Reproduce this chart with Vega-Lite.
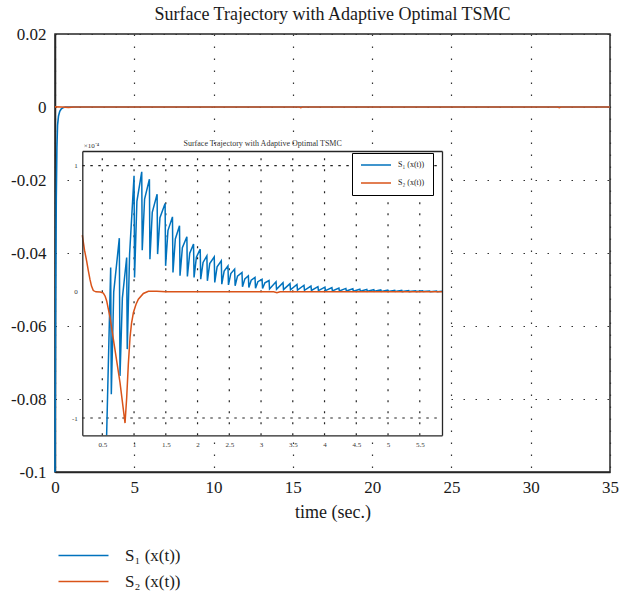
{
  "$schema": "https://vega.github.io/schema/vega-lite/v6.json",
  "width": 555,
  "height": 438,
  "padding": {"left": 5, "top": 6, "right": 5, "bottom": 5},
  "background": "white",
  "title": {"text": "Surface Trajectory with Adaptive Optimal TSMC", "font": "Liberation Serif", "fontSize": 18, "fontWeight": "normal", "color": "#1a1a1a", "anchor": "middle", "frame": "group", "offset": 1},
  "config": {"view": {"stroke": "#262626", "strokeWidth": 1.5}, "font": "Liberation Serif"},
  "datasets": {
    "main": [
      {"t": 0, "s": -0.1, "series": "S₁ (x(t))"},
      {"t": 0.04, "s": -0.055, "series": "S₁ (x(t))"},
      {"t": 0.08, "s": -0.025, "series": "S₁ (x(t))"},
      {"t": 0.12, "s": -0.011, "series": "S₁ (x(t))"},
      {"t": 0.16, "s": -0.005, "series": "S₁ (x(t))"},
      {"t": 0.22, "s": -0.0025, "series": "S₁ (x(t))"},
      {"t": 0.3, "s": -0.0012, "series": "S₁ (x(t))"},
      {"t": 0.4, "s": -0.0005, "series": "S₁ (x(t))"},
      {"t": 0.5, "s": -0.0002, "series": "S₁ (x(t))"},
      {"t": 0.65, "s": 0, "series": "S₁ (x(t))"},
      {"t": 35, "s": 0, "series": "S₁ (x(t))"},
      {"t": 0, "s": 0.000045, "series": "S₂ (x(t))"},
      {"t": 0.4, "s": 0, "series": "S₂ (x(t))"},
      {"t": 0.86, "s": -0.0001, "series": "S₂ (x(t))"},
      {"t": 1.2, "s": 0, "series": "S₂ (x(t))"},
      {"t": 15.4, "s": 0, "series": "S₂ (x(t))"},
      {"t": 15.5, "s": -0.00015, "series": "S₂ (x(t))"},
      {"t": 15.6, "s": 0, "series": "S₂ (x(t))"},
      {"t": 31.7, "s": 0, "series": "S₂ (x(t))"},
      {"t": 31.8, "s": -0.00015, "series": "S₂ (x(t))"},
      {"t": 31.9, "s": 0, "series": "S₂ (x(t))"},
      {"t": 35, "s": 0, "series": "S₂ (x(t))"}
    ],
    "inset": [
      {"t": 0.568, "v": -1.137, "series": "S₁ (x(t))"},
      {"t": 0.632, "v": 0.193, "series": "S₁ (x(t))"},
      {"t": 0.642, "v": -0.811, "series": "S₁ (x(t))"},
      {"t": 0.68, "v": 0.0, "series": "S₁ (x(t))"},
      {"t": 0.768, "v": 0.425, "series": "S₁ (x(t))"},
      {"t": 0.779, "v": -0.666, "series": "S₁ (x(t))"},
      {"t": 0.816, "v": -0.05, "series": "S₁ (x(t))"},
      {"t": 0.884, "v": 0.272, "series": "S₁ (x(t))"},
      {"t": 0.893, "v": -0.454, "series": "S₁ (x(t))"},
      {"t": 0.93, "v": 0.3, "series": "S₁ (x(t))"},
      {"t": 1.0, "v": 0.919, "series": "S₁ (x(t))"},
      {"t": 1.008, "v": 0.114, "series": "S₁ (x(t))"},
      {"t": 1.045, "v": 0.717, "series": "S₁ (x(t))"},
      {"t": 1.121, "v": 0.951, "series": "S₁ (x(t))"},
      {"t": 1.129, "v": 0.33, "series": "S₁ (x(t))"},
      {"t": 1.166, "v": 0.735, "series": "S₁ (x(t))"},
      {"t": 1.242, "v": 0.893, "series": "S₁ (x(t))"},
      {"t": 1.25, "v": 0.259, "series": "S₁ (x(t))"},
      {"t": 1.287, "v": 0.63, "series": "S₁ (x(t))"},
      {"t": 1.363, "v": 0.774, "series": "S₁ (x(t))"},
      {"t": 1.371, "v": 0.299, "series": "S₁ (x(t))"},
      {"t": 1.408, "v": 0.588, "series": "S₁ (x(t))"},
      {"t": 1.489, "v": 0.7, "series": "S₁ (x(t))"},
      {"t": 1.497, "v": 0.206, "series": "S₁ (x(t))"},
      {"t": 1.534, "v": 0.485, "series": "S₁ (x(t))"},
      {"t": 1.605, "v": 0.594, "series": "S₁ (x(t))"},
      {"t": 1.613, "v": 0.153, "series": "S₁ (x(t))"},
      {"t": 1.65, "v": 0.419, "series": "S₁ (x(t))"},
      {"t": 1.716, "v": 0.523, "series": "S₁ (x(t))"},
      {"t": 1.724, "v": 0.127, "series": "S₁ (x(t))"},
      {"t": 1.761, "v": 0.349, "series": "S₁ (x(t))"},
      {"t": 1.832, "v": 0.436, "series": "S₁ (x(t))"},
      {"t": 1.84, "v": 0.122, "series": "S₁ (x(t))"},
      {"t": 1.877, "v": 0.306, "series": "S₁ (x(t))"},
      {"t": 1.937, "v": 0.378, "series": "S₁ (x(t))"},
      {"t": 1.945, "v": 0.114, "series": "S₁ (x(t))"},
      {"t": 1.982, "v": 0.275, "series": "S₁ (x(t))"},
      {"t": 2.042, "v": 0.338, "series": "S₁ (x(t))"},
      {"t": 2.05, "v": 0.1, "series": "S₁ (x(t))"},
      {"t": 2.087, "v": 0.233, "series": "S₁ (x(t))"},
      {"t": 2.147, "v": 0.285, "series": "S₁ (x(t))"},
      {"t": 2.155, "v": 0.087, "series": "S₁ (x(t))"},
      {"t": 2.192, "v": 0.224, "series": "S₁ (x(t))"},
      {"t": 2.263, "v": 0.277, "series": "S₁ (x(t))"},
      {"t": 2.271, "v": 0.074, "series": "S₁ (x(t))"},
      {"t": 2.308, "v": 0.198, "series": "S₁ (x(t))"},
      {"t": 2.374, "v": 0.246, "series": "S₁ (x(t))"},
      {"t": 2.382, "v": 0.061, "series": "S₁ (x(t))"},
      {"t": 2.419, "v": 0.165, "series": "S₁ (x(t))"},
      {"t": 2.479, "v": 0.206, "series": "S₁ (x(t))"},
      {"t": 2.487, "v": 0.055, "series": "S₁ (x(t))"},
      {"t": 2.524, "v": 0.145, "series": "S₁ (x(t))"},
      {"t": 2.584, "v": 0.18, "series": "S₁ (x(t))"},
      {"t": 2.592, "v": 0.048, "series": "S₁ (x(t))"},
      {"t": 2.629, "v": 0.124, "series": "S₁ (x(t))"},
      {"t": 2.7, "v": 0.153, "series": "S₁ (x(t))"},
      {"t": 2.708, "v": 0.04, "series": "S₁ (x(t))"},
      {"t": 2.745, "v": 0.103, "series": "S₁ (x(t))"},
      {"t": 2.8, "v": 0.127, "series": "S₁ (x(t))"},
      {"t": 2.808, "v": 0.034, "series": "S₁ (x(t))"},
      {"t": 2.845, "v": 0.092, "series": "S₁ (x(t))"},
      {"t": 2.905, "v": 0.114, "series": "S₁ (x(t))"},
      {"t": 2.913, "v": 0.029, "series": "S₁ (x(t))"},
      {"t": 2.95, "v": 0.08, "series": "S₁ (x(t))"},
      {"t": 3.016, "v": 0.1, "series": "S₁ (x(t))"},
      {"t": 3.024, "v": 0.026, "series": "S₁ (x(t))"},
      {"t": 3.061, "v": 0.072, "series": "S₁ (x(t))"},
      {"t": 3.126, "v": 0.09, "series": "S₁ (x(t))"},
      {"t": 3.134, "v": 0.023, "series": "S₁ (x(t))"},
      {"t": 3.236, "v": 0.08, "series": "S₁ (x(t))"},
      {"t": 3.244, "v": 0.02, "series": "S₁ (x(t))"},
      {"t": 3.346, "v": 0.072, "series": "S₁ (x(t))"},
      {"t": 3.354, "v": 0.018, "series": "S₁ (x(t))"},
      {"t": 3.456, "v": 0.065, "series": "S₁ (x(t))"},
      {"t": 3.464, "v": 0.016, "series": "S₁ (x(t))"},
      {"t": 3.566, "v": 0.058, "series": "S₁ (x(t))"},
      {"t": 3.574, "v": 0.014, "series": "S₁ (x(t))"},
      {"t": 3.676, "v": 0.052, "series": "S₁ (x(t))"},
      {"t": 3.684, "v": 0.012, "series": "S₁ (x(t))"},
      {"t": 3.786, "v": 0.046, "series": "S₁ (x(t))"},
      {"t": 3.794, "v": 0.011, "series": "S₁ (x(t))"},
      {"t": 3.896, "v": 0.041, "series": "S₁ (x(t))"},
      {"t": 3.904, "v": 0.01, "series": "S₁ (x(t))"},
      {"t": 4.006, "v": 0.037, "series": "S₁ (x(t))"},
      {"t": 4.014, "v": 0.009, "series": "S₁ (x(t))"},
      {"t": 4.116, "v": 0.033, "series": "S₁ (x(t))"},
      {"t": 4.124, "v": 0.008, "series": "S₁ (x(t))"},
      {"t": 4.226, "v": 0.03, "series": "S₁ (x(t))"},
      {"t": 4.234, "v": 0.007, "series": "S₁ (x(t))"},
      {"t": 4.336, "v": 0.027, "series": "S₁ (x(t))"},
      {"t": 4.344, "v": 0.006, "series": "S₁ (x(t))"},
      {"t": 4.446, "v": 0.024, "series": "S₁ (x(t))"},
      {"t": 4.454, "v": 0.005, "series": "S₁ (x(t))"},
      {"t": 4.556, "v": 0.021, "series": "S₁ (x(t))"},
      {"t": 4.564, "v": 0.005, "series": "S₁ (x(t))"},
      {"t": 4.666, "v": 0.019, "series": "S₁ (x(t))"},
      {"t": 4.674, "v": 0.004, "series": "S₁ (x(t))"},
      {"t": 4.776, "v": 0.017, "series": "S₁ (x(t))"},
      {"t": 4.784, "v": 0.004, "series": "S₁ (x(t))"},
      {"t": 4.886, "v": 0.015, "series": "S₁ (x(t))"},
      {"t": 4.894, "v": 0.003, "series": "S₁ (x(t))"},
      {"t": 4.996, "v": 0.013, "series": "S₁ (x(t))"},
      {"t": 5.004, "v": 0.003, "series": "S₁ (x(t))"},
      {"t": 5.106, "v": 0.012, "series": "S₁ (x(t))"},
      {"t": 5.114, "v": 0.003, "series": "S₁ (x(t))"},
      {"t": 5.216, "v": 0.011, "series": "S₁ (x(t))"},
      {"t": 5.224, "v": 0.002, "series": "S₁ (x(t))"},
      {"t": 5.326, "v": 0.01, "series": "S₁ (x(t))"},
      {"t": 5.334, "v": 0.002, "series": "S₁ (x(t))"},
      {"t": 5.436, "v": 0.009, "series": "S₁ (x(t))"},
      {"t": 5.444, "v": 0.002, "series": "S₁ (x(t))"},
      {"t": 5.546, "v": 0.008, "series": "S₁ (x(t))"},
      {"t": 5.554, "v": 0.002, "series": "S₁ (x(t))"},
      {"t": 5.656, "v": 0.007, "series": "S₁ (x(t))"},
      {"t": 5.664, "v": 0.001, "series": "S₁ (x(t))"},
      {"t": 5.766, "v": 0.006, "series": "S₁ (x(t))"},
      {"t": 5.774, "v": 0.001, "series": "S₁ (x(t))"},
      {"t": 5.85, "v": 0.004, "series": "S₁ (x(t))"},
      {"t": 0.185, "v": 0.449, "series": "S₂ (x(t))"},
      {"t": 0.22, "v": 0.33, "series": "S₂ (x(t))"},
      {"t": 0.253, "v": 0.246, "series": "S₂ (x(t))"},
      {"t": 0.279, "v": 0.17, "series": "S₂ (x(t))"},
      {"t": 0.305, "v": 0.1, "series": "S₂ (x(t))"},
      {"t": 0.33, "v": 0.045, "series": "S₂ (x(t))"},
      {"t": 0.358, "v": 0.01, "series": "S₂ (x(t))"},
      {"t": 0.4, "v": 0.0, "series": "S₂ (x(t))"},
      {"t": 0.47, "v": -0.002, "series": "S₂ (x(t))"},
      {"t": 0.516, "v": -0.01, "series": "S₂ (x(t))"},
      {"t": 0.545, "v": -0.035, "series": "S₂ (x(t))"},
      {"t": 0.568, "v": -0.07, "series": "S₂ (x(t))"},
      {"t": 0.621, "v": -0.2, "series": "S₂ (x(t))"},
      {"t": 0.7, "v": -0.46, "series": "S₂ (x(t))"},
      {"t": 0.779, "v": -0.72, "series": "S₂ (x(t))"},
      {"t": 0.858, "v": -1.04, "series": "S₂ (x(t))"},
      {"t": 0.884, "v": -0.84, "series": "S₂ (x(t))"},
      {"t": 0.91, "v": -0.573, "series": "S₂ (x(t))"},
      {"t": 0.937, "v": -0.36, "series": "S₂ (x(t))"},
      {"t": 0.96, "v": -0.25, "series": "S₂ (x(t))"},
      {"t": 0.99, "v": -0.164, "series": "S₂ (x(t))"},
      {"t": 1.03, "v": -0.1, "series": "S₂ (x(t))"},
      {"t": 1.068, "v": -0.058, "series": "S₂ (x(t))"},
      {"t": 1.147, "v": -0.013, "series": "S₂ (x(t))"},
      {"t": 1.226, "v": 0.005, "series": "S₂ (x(t))"},
      {"t": 1.358, "v": 0.005, "series": "S₂ (x(t))"},
      {"t": 1.5, "v": 0.0, "series": "S₂ (x(t))"},
      {"t": 3.2, "v": 0.0, "series": "S₂ (x(t))"},
      {"t": 3.25, "v": -0.008, "series": "S₂ (x(t))"},
      {"t": 3.3, "v": 0.0, "series": "S₂ (x(t))"},
      {"t": 5.85, "v": 0.0, "series": "S₂ (x(t))"}
    ],
    "insetGridX": [
      {"g": 0.5}, {"g": 1}, {"g": 1.5}, {"g": 2}, {"g": 2.5}, {"g": 3},
      {"g": 3.5}, {"g": 4}, {"g": 4.5}, {"g": 5}, {"g": 5.5}
    ],
    "insetGridY": [{"h": -1}, {"h": 1}]
  },
  "layer": [
    {
      "data": {"name": "main"},
      "mark": {"type": "line", "strokeWidth": 1.6},
      "encoding": {
        "x": {
          "field": "t", "type": "quantitative",
          "scale": {"domain": [0, 35], "nice": false, "zero": false},
          "axis": {
            "orient": "bottom", "values": [0, 5, 10, 15, 20, 25, 30, 35], "format": "~g",
            "grid": true, "gridDash": [1.5, 10.5], "gridColor": "#333333", "gridWidth": 1.2,
            "ticks": false, "domainColor": "#262626", "domainWidth": 1.5,
            "labelFont": "Liberation Serif", "labelFontSize": 17, "labelColor": "#1a1a1a",
            "labelPadding": 7, "labelFlush": false, "labelOverlap": false,
            "title": "time (sec.)", "titleFont": "Liberation Serif", "titleFontSize": 18,
            "titleFontWeight": "normal", "titleColor": "#1a1a1a", "titlePadding": 8
          }
        },
        "y": {
          "field": "s", "type": "quantitative",
          "scale": {"domain": [-0.1, 0.02], "nice": false, "zero": false},
          "axis": {
            "orient": "left", "values": [-0.1, -0.08, -0.06, -0.04, -0.02, 0, 0.02], "format": "~g",
            "labelExpr": "replace(datum.label, '−', '-')",
            "grid": true, "gridDash": [1.5, 10.5], "gridColor": "#333333", "gridWidth": 1.2,
            "ticks": false, "domainColor": "#262626", "domainWidth": 1.5,
            "labelFont": "Liberation Serif", "labelFontSize": 17, "labelColor": "#1a1a1a",
            "labelPadding": 9, "labelFlush": false, "labelOverlap": false,
            "minExtent": 50, "maxExtent": 50, "title": null
          }
        },
        "color": {
          "field": "series", "type": "nominal",
          "scale": {"domain": ["S₁ (x(t))", "S₂ (x(t))"], "range": ["#0072BD", "#D95319"]},
          "legend": {
            "orient": "none", "legendX": 0, "legendY": 513, "direction": "vertical",
            "title": null, "padding": 0,
            "labelFont": "Liberation Serif", "labelFontSize": 17, "labelColor": "#1a1a1a",
            "symbolType": "M-1,0H9", "symbolSize": 100, "symbolStrokeWidth": 1.5,
            "labelOffset": 53, "rowPadding": 8
          }
        }
      }
    },
    {
      "layer": [
        {
          "data": {"values": [{}]},
          "mark": {"type": "rect", "fill": "white", "stroke": null},
          "encoding": {
            "x": {
              "datum": 0.185, "type": "quantitative",
              "scale": {"domain": [0.185, 5.85], "range": [27.3, 387], "nice": false, "zero": false},
              "axis": {
                "orient": "top", "offset": -117, "labels": false, "ticks": false, "grid": false,
                "domainColor": "#262626", "domainWidth": 1.3, "zindex": 1,
                "title": "Surface Trajectory with Adaptive Optimal TSMC",
                "titleFont": "Liberation Serif", "titleFontSize": 8, "titleFontWeight": "normal",
                "titleColor": "#333333", "titlePadding": 4
              }
            },
            "x2": {"datum": 5.85},
            "y": {
              "datum": -1.137, "type": "quantitative",
              "scale": {"domain": [-1.137, 1.116], "range": [401.3, 117], "nice": false, "zero": false},
              "axis": {
                "orient": "right", "offset": -168, "labels": false, "ticks": false, "grid": false,
                "domainColor": "#262626", "domainWidth": 1.3, "zindex": 1, "title": null
              }
            },
            "y2": {"datum": 1.116}
          }
        },
        {
          "data": {"name": "insetGridX"},
          "mark": {"type": "rule", "strokeDash": [2, 9], "color": "#222222", "strokeWidth": 1.2},
          "encoding": {
            "x": {"field": "g", "type": "quantitative", "axis": null},
            "y": {"datum": -1.137, "type": "quantitative", "axis": null},
            "y2": {"datum": 1.116}
          }
        },
        {
          "data": {"name": "insetGridY"},
          "mark": {"type": "rule", "strokeDash": [2.5, 5.5], "color": "#222222", "strokeWidth": 1.2},
          "encoding": {
            "y": {"field": "h", "type": "quantitative", "axis": null},
            "x": {"datum": 0.185, "type": "quantitative", "axis": null},
            "x2": {"datum": 5.85}
          }
        },
        {
          "data": {"name": "inset"},
          "mark": {"type": "line", "strokeWidth": 1.5},
          "encoding": {
            "x": {
              "field": "t", "type": "quantitative",
              "axis": {
                "orient": "bottom", "offset": -36.7, "values": [0.5, 1, 1.5, 2, 2.5, 3, 3.5, 4, 4.5, 5, 5.5],
                "format": "~g",
                "grid": false, "ticks": false, "domainColor": "#262626", "domainWidth": 1.3, "zindex": 1,
                "labelFont": "Liberation Serif", "labelFontSize": 7, "labelColor": "#333333",
                "labelPadding": 5, "labelFlush": false, "labelOverlap": false, "title": null
              }
            },
            "y": {
              "field": "v", "type": "quantitative",
              "axis": {
                "orient": "left", "offset": -27.3, "values": [-1, 0, 1], "format": "~g",
                "labelExpr": "replace(datum.label, '−', '-')",
                "grid": false, "ticks": false, "domainColor": "#262626", "domainWidth": 1.3, "zindex": 1,
                "labelFont": "Liberation Serif", "labelFontSize": 7, "labelColor": "#333333",
                "labelPadding": 5, "labelFlush": false, "labelOverlap": false,
                "title": "×10⁻⁴", "titleAngle": 0, "titleX": 1, "titleY": 113,
                "titleAlign": "left", "titleBaseline": "alphabetic",
                "titleFont": "Liberation Serif", "titleFontSize": 7, "titleFontWeight": "normal", "titleColor": "#333333"
              }
            },
            "color": {
              "field": "series", "type": "nominal",
              "legend": {
                "orient": "none", "legendX": 297, "legendY": 119, "direction": "vertical",
                "title": null, "padding": 8, "strokeColor": "#000000", "fillColor": "#ffffff",
                "labelFont": "Liberation Serif", "labelFontSize": 8, "labelColor": "#1a1a1a",
                "symbolType": "M-1,0H9", "symbolSize": 36, "symbolStrokeWidth": 1.5,
                "labelOffset": 30, "rowPadding": 10
              }
            }
          }
        }
      ],
      "resolve": {"axis": {"x": "independent", "y": "independent"}}
    }
  ],
  "resolve": {"scale": {"x": "independent", "y": "independent"}, "legend": {"color": "independent"}}
}
